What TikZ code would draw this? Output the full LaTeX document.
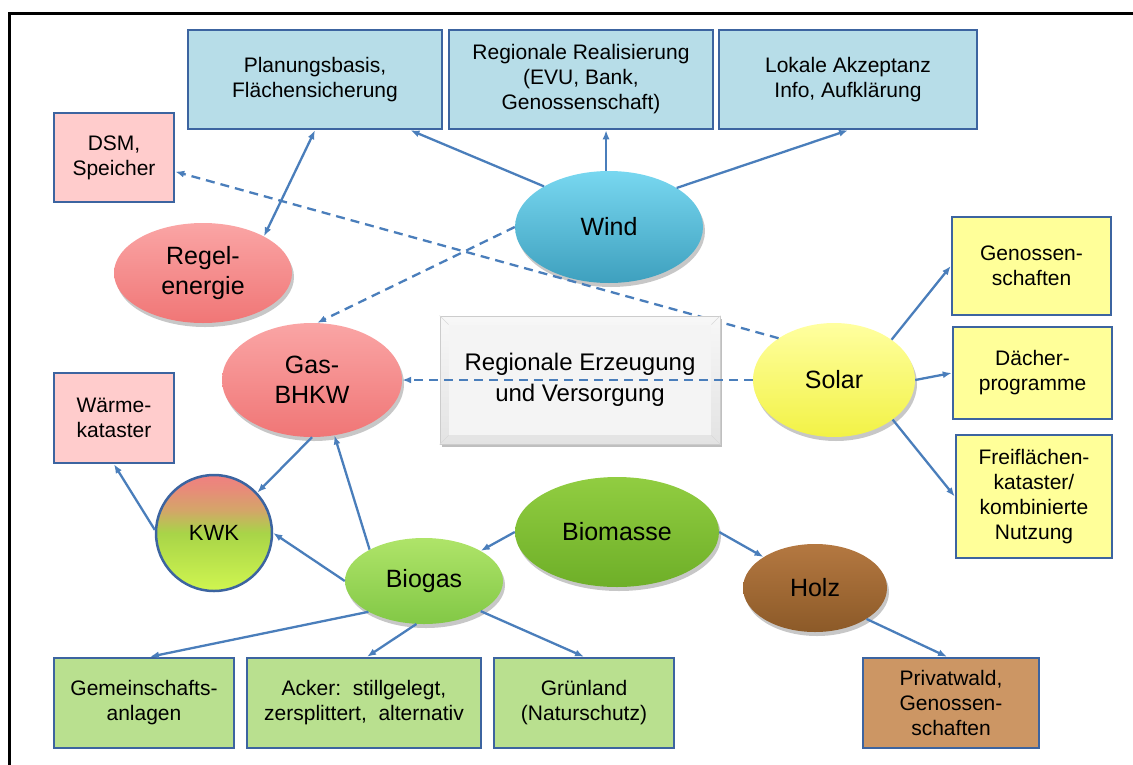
\documentclass[tikz,border=0pt]{standalone}
\usepackage{fontspec}
\setmainfont{Liberation Sans}
\usetikzlibrary{shapes.geometric,arrows.meta,shadows}
\definecolor{edgeblue}{RGB}{74,126,187}
\definecolor{boxline}{RGB}{60,100,160}
\definecolor{bluebox}{RGB}{183,221,232}
\definecolor{pinkbox}{RGB}{255,204,204}
\definecolor{yellowbox}{RGB}{255,255,153}
\definecolor{greenbox}{RGB}{185,224,143}
\definecolor{brownbox}{RGB}{204,150,100}
\definecolor{windtop}{RGB}{120,215,240}
\definecolor{windbot}{RGB}{62,160,190}
\definecolor{redtop}{RGB}{250,165,165}
\definecolor{redbot}{RGB}{240,118,118}
\definecolor{soltop}{RGB}{255,255,160}
\definecolor{solbot}{RGB}{242,242,70}
\definecolor{biomtop}{RGB}{145,205,65}
\definecolor{biombot}{RGB}{110,175,40}
\definecolor{biogtop}{RGB}{175,228,105}
\definecolor{biogbot}{RGB}{130,200,70}
\definecolor{holztop}{RGB}{180,120,65}
\definecolor{holzbot}{RGB}{140,90,40}
\definecolor{kwktop}{RGB}{240,128,128}
\definecolor{kwktan}{RGB}{212,165,105}
\definecolor{kwkmid}{RGB}{168,212,72}
\definecolor{kwkbot}{RGB}{208,246,80}
\pgfdeclareverticalshading{kwkshade}{100bp}{color(0bp)=(kwkbot); color(25bp)=(kwkbot); color(50bp)=(kwkmid); color(60bp)=(kwktan); color(69bp)=(kwktop!70!kwktan); color(75bp)=(kwktop); color(100bp)=(kwktop)}
\begin{document}
\begin{tikzpicture}[x=1pt,y=1pt,
  >={Latex[length=9pt,width=7pt]},
  box/.style={draw=boxline, line width=2.5pt, inner sep=0pt, align=center,
    font=\fontsize{21}{25}\selectfont},
  ell/.style={ellipse, inner sep=0pt, align=center,
    font=\fontsize{25}{30}\selectfont,
    drop shadow={shadow xshift=2pt, shadow yshift=-4pt, opacity=0.22, fill=black}},
  arr/.style={draw=edgeblue, line width=2.3pt, ->},
  dasharr/.style={arr, dash pattern=on 9pt off 6pt}
]
\useasboundingbox (0,0) rectangle (1133,-764);
\draw[line width=3pt] (9,-766) -- (9,-13) -- (1135,-13);

% boxes
\node[box, fill=bluebox, minimum width=254pt, minimum height=99pt] (planung) at (315,-79.5) {Planungsbasis,\\Flächensicherung};
\node[box, fill=bluebox, minimum width=264pt, minimum height=99pt] (regreal) at (581,-79.5) {Regionale Realisierung\\(EVU, Bank,\\Genossenschaft)};
\node[box, fill=bluebox, minimum width=258pt, minimum height=99pt] (lokal) at (848,-79.5) {Lokale Akzeptanz\\Info, Aufklärung};
\node[box, fill=pinkbox, minimum width=120pt, minimum height=89pt] (dsm) at (114,-157.5) {DSM,\\Speicher};
\node[box, fill=pinkbox, minimum width=120pt, minimum height=90pt] (waerme) at (114,-418) {Wärme-\\kataster};
\node[box, fill=yellowbox, minimum width=159pt, minimum height=98pt] (genos) at (1031.5,-266) {Genossen-\\schaften};
\node[box, fill=yellowbox, minimum width=159pt, minimum height=92pt] (daecher) at (1032.5,-373) {Dächer-\\programme};
\node[box, fill=yellowbox, minimum width=156pt, minimum height=123pt] (frei) at (1034,-496.5) {Freiflächen-\\kataster/\\kombinierte\\Nutzung};
\node[box, fill=greenbox, minimum width=180pt, minimum height=90pt] (gemein) at (144,-703) {Gemeinschafts-\\anlagen};
\node[box, fill=greenbox, minimum width=234pt, minimum height=90pt] (acker) at (364,-703) {Acker:\ \ stillgelegt,\\zersplittert,\ \ alternativ};
\node[box, fill=greenbox, minimum width=180pt, minimum height=90pt] (gruen) at (584,-703) {Grünland\\(Naturschutz)};
\node[box, fill=brownbox, minimum width=176pt, minimum height=90pt] (privat) at (951,-703) {Privatwald,\\Genossen-\\schaften};

% ellipses
\node[ell, top color=windtop, bottom color=windbot, minimum width=188pt, minimum height=112pt] (wind) at (609,-227) {Wind};
\node[ell, top color=redtop, bottom color=redbot, minimum width=178pt, minimum height=100pt] (regel) at (203,-273) {Regel-\\energie};
\node[ell, top color=redtop, bottom color=redbot, minimum width=180pt, minimum height=114pt] (gas) at (312,-380) {Gas-\\BHKW};
\node[ell, top color=soltop, bottom color=solbot, minimum width=162pt, minimum height=114pt] (solar) at (834,-380) {Solar};
\node[ell, top color=biomtop, bottom color=biombot, minimum width=204pt, minimum height=110pt] (biomasse) at (617,-532) {Biomasse};
\node[ell, top color=biogtop, bottom color=biogbot, minimum width=158pt, minimum height=86pt] (biogas) at (424,-581) {Biogas};
\node[ell, top color=holztop, bottom color=holzbot, minimum width=144pt, minimum height=88pt] (holz) at (815,-588) {Holz};
\node[circle, draw=boxline, line width=2.5pt, inner sep=0pt, minimum size=116pt,
  shading=kwkshade, font=\fontsize{22}{26}\selectfont] (kwk) at (214,-533) {KWK};

% connectors
\draw[arr] (wind.148) -- (planung.-28.5);
\draw[arr] (wind.93) -- (wind.93 |- regreal.south);
\draw[arr] (wind.30.5) -- (lokal.south);
\draw[arr, <->] (planung.south) -- (regel.31);
\draw[dasharr] (solar.143.6) -- (dsm.-13.6);
\draw[dasharr] (wind.180.6) -- (gas.85);
\draw[arr] (solar.35.4) -- (genos.west);
\draw[arr] (solar.east) -- (daecher.west);
\draw[arr] (solar.-34.8) -- (frei.west);
\draw[arr] (gas.south) -- (kwk.43);
\draw[arr] (kwk.177) -- (waerme.south);
\draw[arr] (biogas.150.5) -- (gas.-68);
\draw[arr] (biogas.west) -- (kwk.east);
\draw[arr] (biogas.209.3) -- ([xshift=6pt]gemein.north);
\draw[arr] (biogas.-100) -- ([xshift=3pt]acker.north);
\draw[arr] (biogas.-28.5) -- (gruen.north);
\draw[arr] (biomasse.west) -- (biogas.28.5);
\draw[arr] (biomasse.east) -- (holz.149.2);
\draw[arr] (holz.-31) -- ([xshift=-4pt]privat.north);

% centre box
\node[draw=gray!40, line width=0.8pt, top color=gray!6, bottom color=gray!22,
  minimum width=280pt, minimum height=128pt, inner sep=0pt,
  drop shadow={shadow xshift=2pt, shadow yshift=-3pt, opacity=0.25, fill=black}] (center) at (580,-380) {};
\fill[gray!9] ([shift={(9pt,9pt)}]center.south west) rectangle ([shift={(-9pt,-9pt)}]center.north east);
\draw[gray!30, line width=0.6pt] (center.south west) -- ([shift={(9pt,9pt)}]center.south west)
  (center.north west) -- ([shift={(9pt,-9pt)}]center.north west)
  (center.north east) -- ([shift={(-9pt,-9pt)}]center.north east)
  (center.south east) -- ([shift={(-9pt,9pt)}]center.south east);
\node[align=center, font=\fontsize{24}{31}\selectfont, inner sep=0pt] (centertext) at (center.center) {Regionale Erzeugung\\und Versorgung};
\draw[dasharr] (solar.west) -- (gas.east);
\end{tikzpicture}
\end{document}
